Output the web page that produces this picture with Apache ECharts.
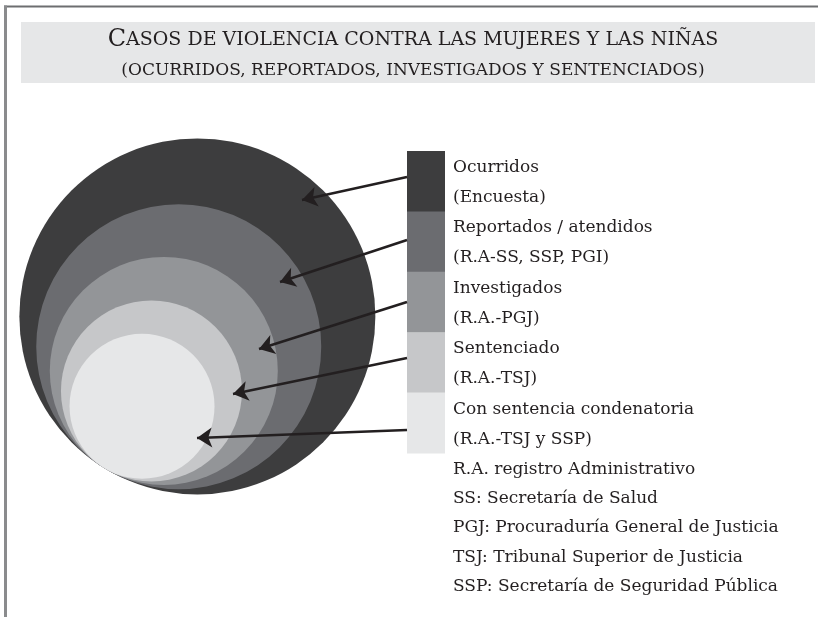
<!DOCTYPE html>
<html>
<head>
<meta charset="utf-8">
<script src="https://cdn.jsdelivr.net/npm/echarts@6/dist/echarts.min.js"></script>
<style>
  html, body { margin: 0; padding: 0; background: #fff; }
  #chart { width: 825px; height: 617px; }
</style>
</head>
<body>
<div id="chart"></div>
<script>
// nested cases, largest first
const categories = ['Ocurridos', 'Reportados / atendidos', 'Investigados', 'Sentenciado', 'Con sentencia condenatoria']
const sources = ['(Encuesta)', '(R.A-SS, SSP, PGI)', '(R.A.-PGJ)', '(R.A.-TSJ)', '(R.A.-TSJ y SSP)']
const radii = [178, 142.5, 114, 90.5, 72.5]
const notes = [
  'R.A. registro Administrativo',
  'SS: Secretaría de Salud',
  'PGJ: Procuraduría General de Justicia',
  'TSJ: Tribunal Superior de Justicia',
  'SSP: Secretaría de Seguridad Pública'
]

const colors = ['#3d3d3e', '#6b6c70', '#939598', '#c6c7c9', '#e6e7e8']
const serif = '"DejaVu Serif", "Liberation Serif", serif'
const ink = '#231f20'

// all circles touch at one point, bottom left
const tangent = [104, 468]
const dir = [0.5245, -0.8516]

// legend boxes
const boxX = 407, boxTop = 151, boxW = 38, boxH = 60.4

// arrow tips, one per ring
const arrowTips = [[302, 200], [280, 282], [259, 349], [233, 394], [197, 438]]
const arrowStarts = [177, 240, 302, 358, 430]

const chart = echarts.init(document.getElementById('chart'))

chart.setOption({
  animation: false,
  grid: { left: 0, right: 0, top: 0, bottom: 0 },
  xAxis: { type: 'value', min: 0, max: 825, show: false },
  yAxis: { type: 'value', min: 0, max: 617, inverse: true, show: false },
  graphic: [
    { type: 'line', shape: { x1: 4, y1: 6.5, x2: 818, y2: 6.5 }, style: { stroke: '#6d6e70', lineWidth: 2 } },
    { type: 'line', shape: { x1: 5.5, y1: 5.5, x2: 5.5, y2: 617 }, style: { stroke: '#8a8b8d', lineWidth: 3 } },
    { type: 'rect', shape: { x: 21, y: 22, width: 794, height: 61 }, style: { fill: '#e6e7e8' } },
    {
      type: 'text', x: 413, y: 52,
      style: {
        text: '{b|C}{s|ASOS DE VIOLENCIA CONTRA LAS MUJERES Y LAS NIÑAS}',
        align: 'center', verticalAlign: 'bottom',
        rich: {
          b: { fontFamily: serif, fontSize: 24, fill: ink },
          s: { fontFamily: serif, fontSize: 19, fill: ink }
        }
      }
    },
    {
      type: 'text', x: 413, y: 79,
      style: {
        text: '(OCURRIDOS, REPORTADOS, INVESTIGADOS Y SENTENCIADOS)',
        align: 'center', verticalAlign: 'bottom',
        font: '17px ' + serif, fill: ink
      }
    },
    ...notes.map((t, i) => ({
      type: 'text', x: 453, y: 469.5 + i * 29.2,
      style: { text: t, font: '17px ' + serif, fill: ink, verticalAlign: 'middle' }
    }))
  ],
  series: [
    {
      type: 'custom',
      silent: true,
      data: radii.map(r => [r]),
      renderItem(params, api) {
        const r = api.value(0)
        const c = api.coord([tangent[0] + dir[0] * r, tangent[1] + dir[1] * r])
        return {
          type: 'circle',
          shape: { cx: c[0], cy: c[1], r: api.size([r, r])[0] },
          style: { fill: colors[params.dataIndex] }
        }
      }
    },
    {
      type: 'custom',
      silent: true,
      data: categories.map((c, i) => [i]),
      renderItem(params, api) {
        const i = params.dataIndex
        const y = boxTop + i * boxH
        return {
          type: 'group',
          children: [
            { type: 'rect', shape: { x: boxX, y: y, width: boxW, height: boxH + 0.5 }, style: { fill: colors[i] } },
            { type: 'text', x: 453, y: y + 16.5, style: { text: categories[i], font: '17px ' + serif, fill: ink, verticalAlign: 'middle' } },
            { type: 'text', x: 453, y: y + 46.5, style: { text: sources[i], font: '17px ' + serif, fill: ink, verticalAlign: 'middle' } }
          ]
        }
      }
    },
    {
      type: 'lines',
      coordinateSystem: 'cartesian2d',
      silent: true,
      symbol: ['none', 'arrow'],
      symbolSize: 15,
      lineStyle: { color: ink, width: 2.5, opacity: 1, curveness: 0 },
      data: arrowTips.map((p, i) => ({ coords: [[boxX, arrowStarts[i]], p] }))
    }
  ]
})
</script>
</body>
</html>
